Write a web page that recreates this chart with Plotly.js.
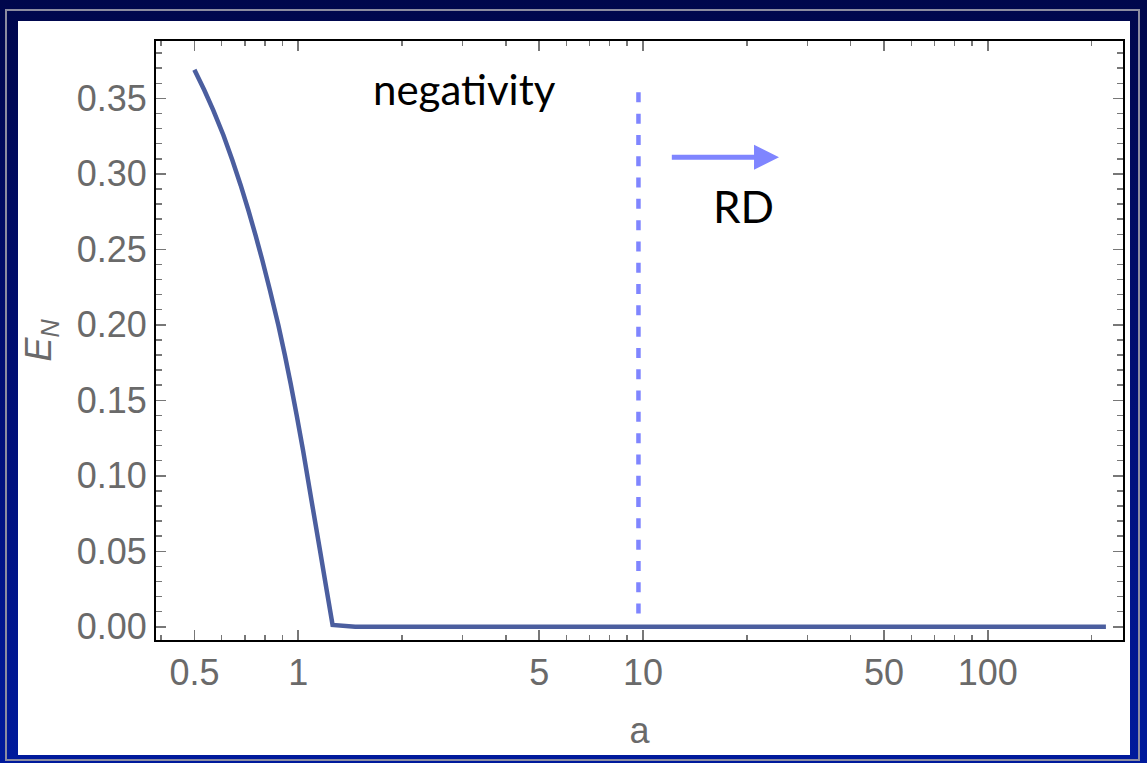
<!DOCTYPE html>
<html>
<head>
<meta charset="utf-8">
<script src="https://cdn.plot.ly/plotly-3.0.1.min.js"></script>
<style>
  html, body { margin: 0; padding: 0; width: 1147px; height: 763px; overflow: hidden; }
  body { background: linear-gradient(to bottom, #00074c 0%, #000f78 55%, #001a9c 100%); position: relative; }
  #frame { position: absolute; left: 5px; top: 9px; width: 1135px; height: 752px; border: 2px solid #8c8ca0; box-sizing: border-box; }
  #chart { position: absolute; left: 18px; top: 21px; width: 1112px; height: 734px; background: #fff; }
</style>
</head>
<body>
<div id="frame"></div>
<div id="chart"></div>
<script>
// Logarithmic negativity E_N as a function of a
const aValues  = [0.5, 0.534, 0.567, 0.607, 0.644, 0.681, 0.717, 0.752, 0.787, 0.828, 0.876, 0.915, 0.951, 0.990,
                  1.033, 1.093, 1.157, 1.210, 1.258, 1.463, 2, 5, 10, 20, 50, 100, 220];
const enValues = [0.369, 0.3555, 0.3422, 0.3256, 0.3091, 0.2925, 0.2759, 0.2594, 0.2428, 0.2229, 0.1997, 0.1798, 0.161, 0.140,
                  0.1168, 0.0836, 0.0505, 0.0239, 0.0012, 0, 0, 0, 0, 0, 0, 0, 0];

// Vertical marker line position and its extent (drawn top to bottom)
const markerA = [9.7, 9.7];
const markerEN = [0.354, 0.007];

// Arrow pointing into the RD region
const arrowA = [12, 24.8];
const arrowEN = 0.311;

// Axis ticks
const xTickVals = [0.5, 1, 5, 10, 50, 100];
const xTickText = ['0.5', '1', '5', '10', '50', '100'];
const xMinorVals = [0.4, 0.6, 0.7, 0.8, 0.9, 2, 3, 4, 6, 7, 8, 9, 20, 30, 40, 60, 70, 80, 90, 200];
const yTickVals = [0, 0.05, 0.10, 0.15, 0.20, 0.25, 0.30, 0.35];
const yTickText = ['0.00', '0.05', '0.10', '0.15', '0.20', '0.25', '0.30', '0.35'];

const xRange = [0.3869, 246.6];
const yRange = [-0.00875, 0.388];

const labelFont = { family: 'Liberation Sans, Arial, sans-serif', size: 36, color: '#6a6a6a' };

const traces = [
  {
    x: aValues, y: enValues, type: 'scatter', mode: 'lines',
    line: { color: '#4b5e9f', width: 4.5, simplify: false }, hoverinfo: 'skip'
  },
  {
    x: markerA, y: markerEN, type: 'scatter', mode: 'lines',
    line: { color: '#7f85ff', width: 4.5, dash: '10px,11.3px' }, hoverinfo: 'skip'
  }
];

const axisCommon = {
  showline: true, linecolor: '#000', linewidth: 2, mirror: 'allticks',
  ticks: 'inside', tickcolor: '#777', tickwidth: 1.5, ticklen: 10,
  showgrid: false, zeroline: false, tickfont: labelFont
};

const layout = {
  width: 1112, height: 734,
  margin: { l: 138, r: 7, t: 20, b: 115 },
  paper_bgcolor: '#ffffff', plot_bgcolor: '#ffffff',
  showlegend: false,
  xaxis: Object.assign({}, axisCommon, {
    type: 'log', range: xRange.map(Math.log10), autorange: false,
    tickmode: 'array', tickvals: xTickVals, ticktext: xTickText,
    ticklabelstandoff: 0,
    minor: { tickmode: 'array', tickvals: xMinorVals, ticks: 'inside', ticklen: 5, tickcolor: '#777', tickwidth: 1.5, showgrid: false },
    title: { text: 'a', font: labelFont, standoff: 26 }
  }),
  yaxis: Object.assign({}, axisCommon, {
    range: yRange, autorange: false,
    tickmode: 'array', tickvals: yTickVals, ticktext: yTickText,
    ticklabelstandoff: 0,
    minor: { dtick: 0.01, ticks: 'inside', ticklen: 6, tickcolor: '#777', tickwidth: 1.5, showgrid: false },
    title: { text: '<i>E</i><sub><i>N</i></sub>', font: labelFont, standoff: 18 }
  }),
  annotations: [
    {
      x: Math.log10(3.03), y: 0.356, xref: 'x', yref: 'y', text: 'negativity', showarrow: false,
      font: { family: 'Lato, sans-serif', size: 42, color: '#000' }
    },
    {
      x: Math.log10(19.6), y: 0.2786, xref: 'x', yref: 'y', text: 'RD', showarrow: false,
      font: { family: 'Lato, sans-serif', size: 44, color: '#000' }
    },
    {
      x: Math.log10(arrowA[1]), y: arrowEN, ax: Math.log10(arrowA[0]), ay: arrowEN,
      xref: 'x', yref: 'y', axref: 'x', ayref: 'y', text: '', showarrow: true,
      arrowhead: 2, arrowsize: 1, arrowwidth: 5, arrowcolor: '#7f85ff', standoff: 0
    }
  ]
};

Plotly.newPlot('chart', traces, layout, { staticPlot: true, displayModeBar: false });
</script>
</body>
</html>
